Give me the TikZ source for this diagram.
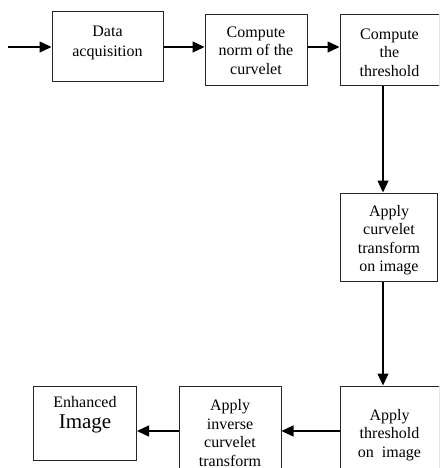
\documentclass[tikz,border=0pt]{standalone}
\usepackage{fontspec}
\setmainfont{Liberation Serif}
\usetikzlibrary{arrows.meta}
\begin{document}
\begin{tikzpicture}[x=1pt,y=-1pt,
  box/.style={draw=black!85, line width=1pt, inner sep=0pt},
  lbl/.style={inner sep=0pt, align=center, font=\fontsize{16}{18.5}\selectfont},
  flow/.style={line width=1.3pt, -{Triangle[length=12pt,width=11pt]}}]
\useasboundingbox (0,0) rectangle (439,468);
\clip (0,0) rectangle (439,468);

% top row
\node[box, minimum width=111pt, minimum height=70pt] (acq) at (107.5,47) {};
\node[lbl] (acqtxt) at ([yshift=4pt]acq.center) {Data\\[1.5pt]acquisition};
\node[box, minimum width=102pt, minimum height=71pt] (norm) at (256,50.5) {};
\node[lbl] (normtxt) at (norm.center) {Compute\\norm of the\\curvelet};
\node[box, minimum width=99pt, minimum height=71pt] (thr) at (389.5,50.5) {};
\node[lbl] (thrtxt) at ([yshift=-2pt]thr.center) {Compute\\the\\threshold};

% right column
\node[box, minimum width=97pt, minimum height=88pt] (fwd) at (389,237) {};
\node[lbl] (fwdtxt) at ([yshift=-3pt]fwd.center) {Apply\\curvelet\\transform\\on image};
\node[box, minimum width=99pt, minimum height=100pt] (app) at (389.5,436) {};
\node[lbl] (apptxt) at ([yshift=1pt]app.center) {Apply\\threshold\\on~~image};

% bottom row
\node[box, minimum width=102pt, minimum height=92pt] (inv) at (230,432) {};
\node[lbl] (invtxt) at ([yshift=-1pt]inv.center) {Apply\\inverse\\curvelet\\transform};
\node[box, minimum width=103pt, minimum height=74pt] (enh) at (85,423) {};
\node[lbl, anchor=north] (enhtxt) at ([yshift=-11pt]enh.north)
  {Enhanced\\[2pt]{\fontsize{21}{22}\selectfont Image}};

% connector guides
\coordinate (start) at (8,47);
\coordinate (col) at (383,0);
\coordinate (row) at (0,431);

\draw[flow] (start) -- (acq.west);
\draw[flow] (acq.east) -- (acq.east -| norm.west);
\draw[flow] (norm.east |- acq.east) -- (thr.west |- acq.east);
\draw[flow] (thr.south -| col) -- (fwd.north -| col);
\draw[flow] (fwd.south -| col) -- (app.north -| col);
\draw[flow] (app.west |- row) -- (inv.east |- row);
\draw[flow] (inv.west |- row) -- (enh.east |- row);
\end{tikzpicture}
\end{document}
